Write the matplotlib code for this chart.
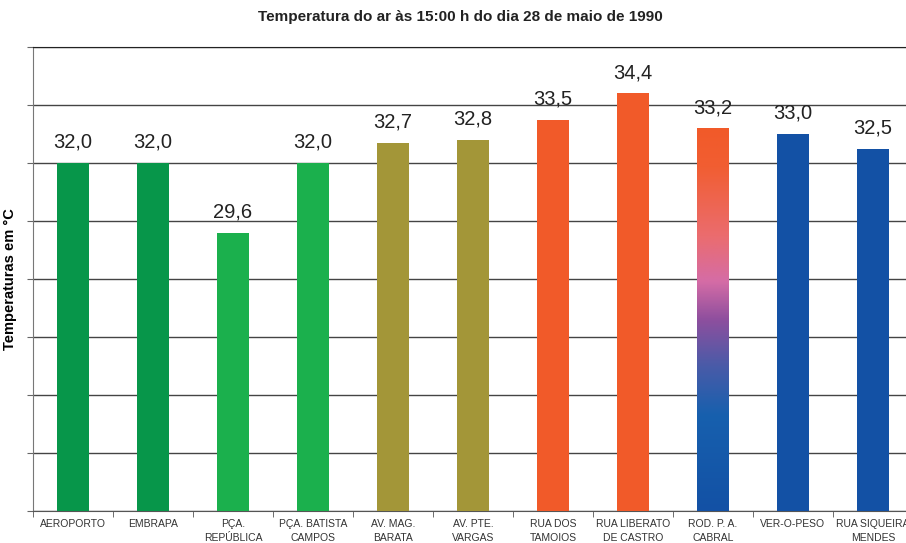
import numpy as np
import matplotlib
matplotlib.use('Agg')
import matplotlib.pyplot as plt
from matplotlib.colors import LinearSegmentedColormap

plt.rcParams['font.family'] = ['Liberation Sans', 'DejaVu Sans']

# dados
estacoes = ['AEROPORTO', 'EMBRAPA', 'PÇA.\nREPÚBLICA', 'PÇA. BATISTA\nCAMPOS', 'AV. MAG.\nBARATA',
            'AV. PTE.\nVARGAS', 'RUA DOS\nTAMOIOS', 'RUA LIBERATO\nDE CASTRO', 'ROD. P. A.\nCABRAL',
            'VER-O-PESO', 'RUA SIQUEIRA\nMENDES']
temperaturas = [32.0, 32.0, 29.6, 32.0, 32.7, 32.8, 33.5, 34.4, 33.2, 33.0, 32.5]
cores = ['#07964A', '#07964A', '#1BB04D', '#1BB04D', '#A39638', '#A39638',
         '#F15A29', '#F15A29', None, '#1351A5', '#1351A5']

fig = plt.figure(figsize=(9.06, 5.43), dpi=100)
ax = fig.add_axes([33 / 906, 32 / 543, 880 / 906, 464 / 543])

x = np.arange(len(estacoes))
largura = 0.4
for xi, t, c in zip(x, temperaturas, cores):
    if c is None:
        # barra com degradê (laranja -> rosa -> roxo -> azul)
        cmap = LinearSegmentedColormap.from_list('grad', [
            (0.0, '#1351A5'), (0.25, '#1760AE'), (0.38, '#4A5BA8'), (0.5, '#8E4F9E'),
            (0.6, '#D56CA6'), (0.72, '#EB6C6E'), (0.9, '#F15E32'), (1.0, '#F15A29')])
        grad = np.linspace(0, 1, 256).reshape(-1, 1)
        ax.imshow(grad, cmap=cmap, origin='lower', aspect='auto',
                  extent=[xi - largura / 2, xi + largura / 2, 20, t], zorder=3)
    else:
        ax.bar(xi, t - 20, bottom=20, width=largura, color=c, zorder=3)
    ax.annotate(f'{t:.1f}'.replace('.', ','), (xi, t), xytext=(0, 8), textcoords='offset points',
                ha='center', va='bottom', fontsize=14.5, color='#222222')

ax.set_xlim(-0.5, len(estacoes) - 0.5)
ax.set_ylim(20, 36)
ax.set_yticks(np.arange(20, 37, 2))
ax.set_yticklabels([])
ax.grid(axis='y', color='#444444', linewidth=1, zorder=0)
ax.tick_params(axis='y', length=4, color='#666666')

ax.set_xticks(x)
ax.set_xticklabels(estacoes, fontsize=7.5, color='#333333', linespacing=1.45)
ax.tick_params(axis='x', which='major', length=0, pad=6)
ax.set_xticks(np.arange(-0.5, len(estacoes), 1), minor=True)
ax.tick_params(axis='x', which='minor', length=4, color='#555555')

ax.spines['right'].set_visible(False)
ax.spines['top'].set_color('#222222')
ax.spines['left'].set_color('#777777')
ax.spines['bottom'].set_color('#555555')

ax.set_ylabel('Temperaturas em °C', fontsize=10.5, fontweight='bold')
ax.yaxis.set_label_coords(-16 / 880, 0.5)
fig.text(460 / 906, 1 - 17 / 543, 'Temperatura do ar às 15:00 h do dia 28 de maio de 1990',
         ha='center', va='center', fontsize=11, fontweight='bold', color='#222222')

fig.savefig('out.png', dpi=100)
